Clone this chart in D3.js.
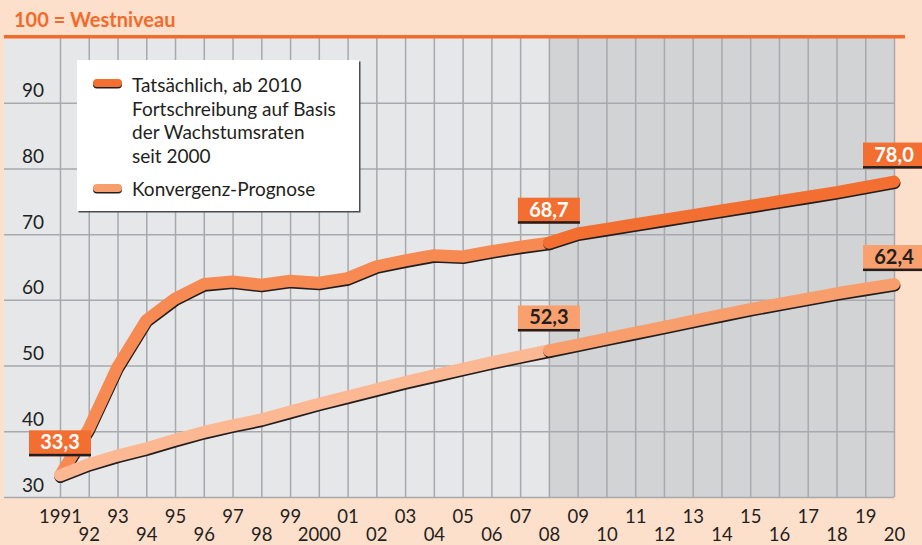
<!DOCTYPE html>
<html>
<head>
<meta charset="utf-8">
<script src="https://cdn.jsdelivr.net/npm/d3@7"></script>
<style>
  body { margin: 0; background: #fde0cc; }
  svg { display: block; font-family: Lato, sans-serif; }
</style>
</head>
<body>
<div id="vis"></div>
<script>
// data
const YEARS = [1991, 1992, 1993, 1994, 1995, 1996, 1997, 1998, 1999, 2000,
               2001, 2002, 2003, 2004, 2005, 2006, 2007, 2008, 2009, 2010,
               2011, 2012, 2013, 2014, 2015, 2016, 2017, 2018, 2019, 2020];
const X_LABELS = ["1991", "92", "93", "94", "95", "96", "97", "98", "99", "2000",
                  "01", "02", "03", "04", "05", "06", "07", "08", "09", "10",
                  "11", "12", "13", "14", "15", "16", "17", "18", "19", "20"];
const ACTUAL = [33.3, 40.4, 49.8, 56.9, 60.2, 62.4, 62.8, 62.3, 62.9, 62.6,
                63.3, 65.1, 66.0, 66.8, 66.6, 67.4, 68.1, 68.7, 70.1, 70.8,
                71.5, 72.2, 72.9, 73.6, 74.3, 75.0, 75.7, 76.4, 77.2, 78.0];
const KONVERGENZ = [33.3, 35.0, 36.3, 37.4, 38.7, 39.9, 40.9, 41.8, 43.0, 44.2,
                    45.3, 46.4, 47.5, 48.5, 49.5, 50.5, 51.4, 52.3, 53.2, 54.1,
                    55.0, 55.9, 56.8, 57.7, 58.6, 59.4, 60.2, 61.0, 61.7, 62.4];
const Y_TICKS = [30, 40, 50, 60, 70, 80, 90];
const SPLIT_YEAR = 2008;
const LEGEND_ACTUAL = ["Tatsächlich, ab 2010", "Fortschreibung auf Basis",
                       "der Wachstumsraten", "seit 2000"];
const LEGEND_KONV = "Konvergenz-Prognose";
const VALUE_LABELS = [
  {year: 1991, series: "actual", text: "33,3"},
  {year: 2008, series: "actual", text: "68,7"},
  {year: 2020, series: "actual", text: "78,0"},
  {year: 2008, series: "konv", text: "52,3"},
  {year: 2020, series: "konv", text: "62,4"}
];

// frame
const FRAME_WIDTH = 922;
const FRAME_HEIGHT = 545;
const PLOT = {left: 4, right: 894, top: 37, bottom: 497};

const COLORS = {
  orange: "#f26b2b",
  plot: "#e6e7e9",
  future: "#d1d3d4",
  grid: "#a7a9ac",
  dark: "#231f20",
  actualPast: "#f68a52",
  actualFuture: "#f26f31",
  konvPast: "#fbb892",
  konvFuture: "#f89e6c"
};

const FRAME = d3.select("#vis")
  .append("svg")
    .attr("width", FRAME_WIDTH)
    .attr("height", FRAME_HEIGHT);

const X_SCALE = d3.scaleLinear()
  .domain([1991, 2020])
  .range([60, PLOT.right]);

const Y_SCALE = d3.scaleLinear()
  .domain([30, 100])
  .range([PLOT.bottom, PLOT.top]);

// title
FRAME.append("text")
  .attr("x", 14)
  .attr("y", 27)
  .attr("font-size", 20)
  .attr("font-weight", "bold")
  .attr("fill", COLORS.orange)
  .text("100 = Westniveau");

// plot background, forecast part darker
FRAME.append("rect")
  .attr("x", PLOT.left)
  .attr("y", PLOT.top)
  .attr("width", PLOT.right - PLOT.left)
  .attr("height", PLOT.bottom - PLOT.top)
  .attr("fill", COLORS.plot);

FRAME.append("rect")
  .attr("x", X_SCALE(SPLIT_YEAR))
  .attr("y", PLOT.top)
  .attr("width", X_SCALE(2020) - X_SCALE(SPLIT_YEAR))
  .attr("height", PLOT.bottom - PLOT.top)
  .attr("fill", COLORS.future);

// vertical grid
const XGRID = FRAME.append("g")
  .attr("transform", "translate(0," + PLOT.bottom + ")")
  .call(d3.axisBottom(X_SCALE)
    .tickValues(YEARS)
    .tickSize(-(PLOT.bottom - PLOT.top))
    .tickFormat(""));
XGRID.select(".domain").remove();
XGRID.selectAll("line").attr("stroke", COLORS.grid).attr("stroke-width", 1.5);

// horizontal grid
const YGRID = FRAME.append("g")
  .attr("transform", "translate(" + PLOT.right + ",0)")
  .call(d3.axisLeft(Y_SCALE)
    .tickValues(Y_TICKS)
    .tickSize(PLOT.right - PLOT.left)
    .tickFormat(""));
YGRID.select(".domain").remove();
YGRID.selectAll("line").attr("stroke", COLORS.grid).attr("stroke-width", 1.5);

// top orange rule
FRAME.append("rect")
  .attr("x", PLOT.left)
  .attr("y", 35)
  .attr("width", 901)
  .attr("height", 3.5)
  .attr("fill", COLORS.orange);

// y labels
const YAXIS = FRAME.append("g")
  .attr("transform", "translate(44,0)")
  .call(d3.axisLeft(Y_SCALE).tickValues(Y_TICKS).tickSize(0).tickPadding(0));
YAXIS.select(".domain").remove();
YAXIS.selectAll("text")
  .attr("dy", null)
  .attr("y", -6)
  .attr("font-size", 19)
  .attr("font-family", "Lato, sans-serif")
  .attr("fill", COLORS.dark);

// x labels, staggered
const XAXIS = FRAME.append("g")
  .attr("transform", "translate(0," + PLOT.bottom + ")")
  .call(d3.axisBottom(X_SCALE)
    .tickValues(YEARS)
    .tickSize(0)
    .tickFormat((d, i) => X_LABELS[i]));
XAXIS.select(".domain").remove();
XAXIS.selectAll("text")
  .attr("dy", null)
  .attr("y", (d, i) => i % 2 === 0 ? 26 : 44)
  .attr("font-size", 18.5)
  .attr("font-family", "Lato, sans-serif")
  .attr("fill", COLORS.dark);

// lines
const LINE = d3.line()
  .x((d) => X_SCALE(d.year))
  .y((d) => Y_SCALE(d.value));

function drawSeries(values, pastColor, futureColor) {
  const pts = YEARS.map((y, i) => ({year: y, value: values[i]}));
  const past = pts.filter((d) => d.year <= SPLIT_YEAR);
  const future = pts.filter((d) => d.year >= SPLIT_YEAR);

  [[past, pastColor], [future, futureColor]].forEach(([seg, color]) => {
    FRAME.append("path")
      .attr("d", LINE(seg))
      .attr("transform", "translate(0.5,1.6)")
      .attr("fill", "none")
      .attr("stroke", COLORS.dark)
      .attr("stroke-width", 12)
      .attr("stroke-linecap", "round")
      .attr("stroke-linejoin", "round");
    FRAME.append("path")
      .attr("d", LINE(seg))
      .attr("fill", "none")
      .attr("stroke", color)
      .attr("stroke-width", 12)
      .attr("stroke-linecap", "round")
      .attr("stroke-linejoin", "round");
  });
}

drawSeries(ACTUAL, COLORS.actualPast, COLORS.actualFuture);
drawSeries(KONVERGENZ, COLORS.konvPast, COLORS.konvFuture);

// value labels
VALUE_LABELS.forEach((lab) => {
  const values = lab.series === "actual" ? ACTUAL : KONVERGENZ;
  const v = values[YEARS.indexOf(lab.year)];
  const cx = X_SCALE(lab.year);
  const bottom = Y_SCALE(v) - (lab.year === 2020 ? 13 : 19);
  const g = FRAME.append("g");
  g.append("rect")
    .attr("x", cx - 31)
    .attr("y", bottom - 26)
    .attr("width", 62)
    .attr("height", 26)
    .attr("fill", lab.series === "actual" ? COLORS.actualFuture : "#f8a06e");
  g.append("rect")
    .attr("x", cx - 31)
    .attr("y", bottom - 2.5)
    .attr("width", 62)
    .attr("height", 2.5)
    .attr("fill", COLORS.dark);
  g.append("text")
    .attr("x", cx)
    .attr("y", bottom - 7)
    .attr("text-anchor", "middle")
    .attr("font-size", 20)
    .attr("font-weight", "bold")
    .attr("fill", lab.series === "actual" ? "white" : COLORS.dark)
    .text(lab.text);
});

// legend
const LEGEND = FRAME.append("g");
LEGEND.append("rect")
  .attr("x", 78.5).attr("y", 61.5)
  .attr("width", 282).attr("height", 151)
  .attr("fill", "#4d4d4f");
LEGEND.append("rect")
  .attr("x", 77).attr("y", 60)
  .attr("width", 282).attr("height", 151)
  .attr("fill", "white");

[[83, COLORS.actualFuture], [188, COLORS.konvFuture]].forEach(([y, color]) => {
  LEGEND.append("line")
    .attr("x1", 97).attr("x2", 118)
    .attr("y1", y + 1.5).attr("y2", y + 1.5)
    .attr("stroke", COLORS.dark)
    .attr("stroke-width", 8)
    .attr("stroke-linecap", "round");
  LEGEND.append("line")
    .attr("x1", 97).attr("x2", 118)
    .attr("y1", y).attr("y2", y)
    .attr("stroke", color)
    .attr("stroke-width", 8)
    .attr("stroke-linecap", "round");
});

LEGEND.selectAll(".leg-actual")
  .data(LEGEND_ACTUAL)
  .enter()
  .append("text")
    .attr("class", "leg-actual")
    .attr("x", 132)
    .attr("y", (d, i) => 92 + i * 23.5)
    .attr("font-size", 19)
    .attr("fill", COLORS.dark)
    .text((d) => d);

LEGEND.append("text")
  .attr("x", 132)
  .attr("y", 196)
  .attr("font-size", 19)
  .attr("fill", COLORS.dark)
  .text(LEGEND_KONV);
</script>
</body>
</html>
